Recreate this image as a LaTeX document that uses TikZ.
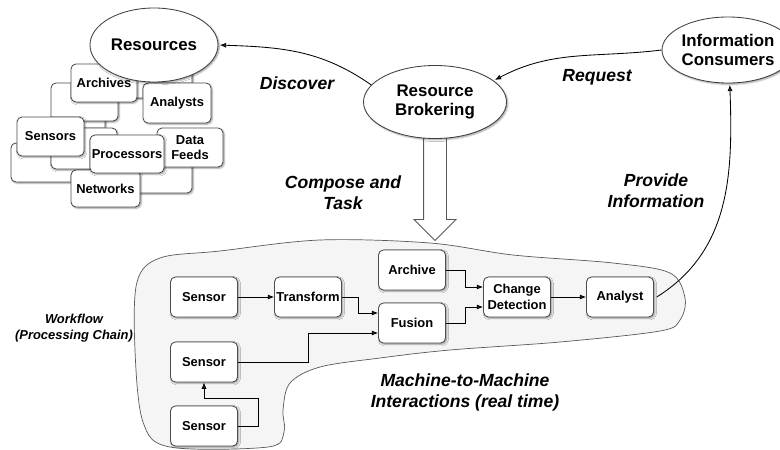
\documentclass[tikz,border=0pt]{standalone}
\usepackage{fontspec}
\setmainfont{Liberation Sans}
\usetikzlibrary{arrows.meta,positioning,shapes,shadows.blur}

\begin{document}
\begin{tikzpicture}[
  x=0.25mm, y=-0.25mm,
  >={Latex[length=4.5pt,width=3.6pt]},
  softshadow/.style={blur shadow={shadow xshift=0.9pt, shadow yshift=-0.9pt, shadow blur radius=1.2pt, shadow opacity=40}},
  oval/.style={ellipse, draw=black!75, fill=white, line width=0.6pt, inner sep=0pt, align=center, font=\fontsize{12}{14}\selectfont\bfseries, softshadow},
  stackbox/.style={draw=black!70, fill=white, line width=0.6pt, rounded corners=3.5pt, softshadow},
  resbox/.style={stackbox, align=center, inner sep=1pt, font=\fontsize{9.2}{11}\selectfont\bfseries},
  procbox/.style={resbox, minimum width=16.75mm, minimum height=10mm},
  wire/.style={->, line width=0.6pt},
  link/.style={->, line width=0.6pt, shorten >=1pt},
  tag/.style={align=center, font=\fontsize{12.5}{15}\selectfont\bfseries\itshape},
  zone/.style={draw=black!65, fill=black!4, line width=0.5pt},
  bigarrow/.style={single arrow, draw=black!65, fill=white, line width=0.6pt, inner sep=2.75mm,
    single arrow head extend=2.375mm, minimum height=26.5mm, shape border rotate=270}
]
\useasboundingbox (0,0) rectangle (780,449);

% Workflow area
\draw[zone] plot[smooth cycle, tension=0.55] coordinates {
  (137,282) (160,258) (220,251) (320,240) (430,243) (513,255) (613,263)
  (670,273) (685,298) (680,320) (660,331) (560,342) (450,350) (380,358)
  (320,367) (290,383) (283,410) (284,432) (268,447) (170,447) (143,422) (135,350)};

% Resource pool: blank cards behind the named ones
\draw[stackbox] (112,50) rectangle (192,98);
\draw[stackbox] (120,140) rectangle (192,193);
\draw[stackbox] (55,95) rectangle (105,140);
\draw[stackbox] (51,83) rectangle (118,121);
\draw[stackbox] (11,143) rectangle (100,182);
\draw[stackbox] (51,128) rectangle (117,169);

\node[resbox, minimum width=16.5mm, minimum height=9.5mm] (archives) at (104,83) {Archives};
\node[resbox, minimum width=17mm, minimum height=10mm] (analysts) at (177,103) {Analysts};
\node[resbox, minimum width=16.75mm, minimum height=9.75mm] (sensors) at (50.5,136.5) {Sensors};
\node[resbox, minimum width=17.25mm, minimum height=9.25mm] (networks) at (105.5,188.5) {Networks};
\node[resbox, minimum width=16.5mm, minimum height=9.75mm] (feeds) at (190,147.5) {Data\\Feeds};
\node[resbox, minimum width=18.5mm, minimum height=9.5mm] (processors) at (127,154) {Processors};

\node[oval, minimum width=32mm, minimum height=18.5mm] (res) at (154,45) {Resources};

% Tasking arrow sits under the brokering oval
\node[bigarrow, anchor=tail] (compose) at (435,134) {};

% Brokering and consumers
\node[oval, minimum width=35.75mm, minimum height=18.25mm] (brok) at (435,102) {Resource\\Brokering};
\node[oval, minimum width=33mm, minimum height=16.5mm] (cons) at (728,50) {Information\\Consumers};

% Processing chain
\node[procbox] (sen1) at (204,297) {Sensor};
\node[procbox] (trans) at (308,297) {Transform};
\node[procbox] (sen2) at (204,362) {Sensor};
\node[procbox] (sen3) at (204,426) {Sensor};
\node[procbox] (arch) at (412,270) {Archive};
\node[procbox] (fus) at (412,323) {Fusion};
\node[procbox] (chg) at (517,297) {Change\\Detection};
\node[procbox] (ana) at (620,297) {Analyst};

\draw[wire] (sen1) -- (trans);
\draw[wire] (trans.east) -- ++(16,0) |- ([yshift=2.5mm]fus.west);
\draw[wire] (sen2.east) -- ++(70,0) |- ([yshift=-2.5mm]fus.west);
\draw[wire] (sen3.east) -- ++(20,0) -- ++(0,-28) -| (sen2.south);
\draw[wire] (arch.east) -- ++(19,0) |- ([yshift=2.5mm]chg.west);
\draw[wire] (fus.east) -- ++(19,0) |- ([yshift=-2.5mm]chg.west);
\draw[wire] (chg) -- (ana);

% Top level interactions
\draw[link] (brok.165) to[out=145, in=-2] (res.east);
\draw[link] (cons.west) to[out=187, in=28] (brok.20);
\draw[link] ([xshift=2pt]ana.east) to[out=32, in=-88] (cons.-87);

% Labels
\node[tag] (discover) at (297,83) {Discover};
\node[tag] (request) at (597,77) {Request};
\node[tag] (composetxt) at (343,193) {Compose and\\Task};
\node[tag] (provide) at (656,191) {Provide\\Information};
\node[tag, font=\fontsize{9.2}{11.5}\selectfont\bfseries\itshape] (workflow) at (74,328) {Workflow\\(Processing Chain)};
\node[tag] (m2m) at (465,392) {Machine-to-Machine\\Interactions (real time)};

\end{tikzpicture}
\end{document}
